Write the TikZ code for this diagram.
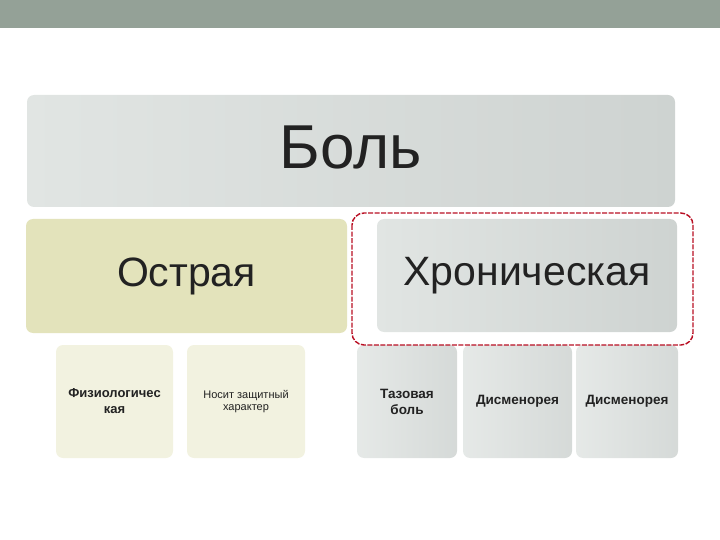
\documentclass[tikz,border=0pt]{standalone}
\usepackage{fontspec}
\setmainfont{Liberation Sans}
\usepackage{tikz}
\usetikzlibrary{shapes,positioning}
\definecolor{barcol}{RGB}{148,161,151}
\definecolor{greyl}{RGB}{225,229,227}
\definecolor{greyr}{RGB}{206,211,209}
\definecolor{olive}{RGB}{227,227,187}
\definecolor{olivel}{RGB}{242,242,224}
\definecolor{framered}{RGB}{185,15,35}
\definecolor{txt}{RGB}{34,34,34}
\tikzset{
box/.style={rounded corners=7pt, inner sep=0pt, align=center, text=txt}, % common look of all boxes
greybox/.style={box, left color=greyl, right color=greyr}, % grey boxes
olivebox/.style={box, fill=olive}, % acute pain
smallolive/.style={box, fill=olivel, font=\fontsize{13}{16}\selectfont\bfseries}, % under acute
smallgrey/.style={box, left color=greyl!85!white, right color=greyr!85!white, font=\fontsize{13.5}{16}\selectfont\bfseries}, % under chronic
redframe/.style={draw=framered, dash pattern=on 5pt off 1.5pt, line width=1.4pt, rounded corners=12pt} % highlight
}
\begin{document}
\begin{tikzpicture}[x=1pt,y=-1pt]
        \useasboundingbox (0,0) rectangle (720,540);
        % top bar
        \fill [barcol] (0,0) rectangle (720,28);
        % main box
        \node [greybox, minimum width=648pt, minimum height=112pt, font=\fontsize{62}{64}\selectfont] (bol) at (351,151) {\raisebox{8pt}{Боль}};
        % second level
        \node [olivebox, minimum width=321pt, minimum height=114pt, font=\fontsize{41}{44}\selectfont] (ostr) at (186.5,276) {Острая};
        \node [greybox, minimum width=300pt, minimum height=113pt, font=\fontsize{41}{44}\selectfont] (chron) at (527,275.5) {Хроническая};
        % third level
        \node [smallolive, minimum width=117pt, minimum height=113pt] (fiz) at (114.5,401.5) {Физиологичес\\кая};
        \node [smallolive, minimum width=118pt, minimum height=113pt, font=\fontsize{11}{11.5}\selectfont] (zash) at (246,401.5) {Носит защитный\\характер};
        \node [smallgrey, minimum width=100pt, minimum height=113pt] (taz) at (407,401.5) {Тазовая\\боль};
        \node [smallgrey, minimum width=109pt, minimum height=113pt] (dis) at (517.5,401.5) {Дисменорея};
        \node [smallgrey, minimum width=102pt, minimum height=113pt] (disb) at (627,401.5) {Дисменорея};
        % dashed frame round the chronic box
        \draw [redframe] (352,213) rectangle (693,345);
\end{tikzpicture}
\end{document}
